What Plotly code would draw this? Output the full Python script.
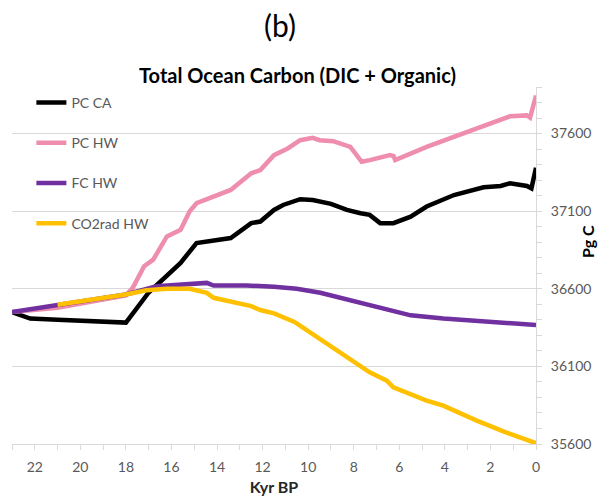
import plotly.graph_objects as go

# kyr BP and Pg C
pc_ca_x = [23, 22.2, 21, 20, 19, 18.0, 17.0, 15.6, 14.9, 13.4, 12.5, 12.1, 11.5, 11.1, 10.35, 9.8, 9.0, 8.3,
           7.7, 7.3, 6.84, 6.26, 5.5, 4.8, 3.6, 2.3, 1.55, 1.14, 0.4, 0.2, 0]
pc_ca_y = [36450, 36408, 36400, 36395, 36390, 36382, 36576, 36767, 36895, 36927, 37023, 37033, 37108, 37140,
           37177, 37172, 37147, 37108, 37087, 37076, 37023, 37023, 37065, 37130, 37204, 37254, 37262, 37280,
           37262, 37247, 37380]

pc_hw_x = [23, 21, 19, 18.0, 17.7, 17.2, 16.8, 16.2, 15.6, 15.2, 14.9, 13.4, 12.5, 12.1, 11.5, 10.9, 10.35,
           9.8, 9.5, 8.9, 8.15, 7.65, 7.3, 6.4, 6.25, 6.18, 4.8, 3.6, 2.3, 1.14, 0.4, 0.26, 0]
pc_hw_y = [36450, 36478, 36530, 36557, 36606, 36745, 36788, 36937, 36980, 37100, 37151, 37237, 37344, 37365,
           37461, 37504, 37557, 37572, 37557, 37551, 37514, 37418, 37429, 37461, 37455, 37429, 37514, 37578,
           37653, 37711, 37717, 37703, 37845]

fc_hw_x = [23, 21.0, 18.0, 16.65, 15.5, 14.45, 14.15, 12.7, 11.5, 10.5, 9.47, 8.3, 7.3, 6.4, 5.5, 4.07, 2.6,
           1.14, 0]
fc_hw_y = [36450, 36497, 36563, 36617, 36627, 36638, 36621, 36621, 36613, 36600, 36574, 36531, 36495, 36467,
           36429, 36408, 36392, 36375, 36367]

co2_x = [21.0, 18.0, 17.1, 16.2, 15.2, 15.0, 14.45, 14.15, 13.1, 12.5, 12.1, 11.5, 10.6, 9.8, 8.75, 8.0, 7.3,
         6.55, 6.26, 4.8, 4.07, 2.6, 1.43, 0]
co2_y = [36497, 36563, 36591, 36600, 36600, 36595, 36574, 36542, 36510, 36488, 36463, 36442, 36386, 36307,
         36206, 36136, 36062, 36008, 35965, 35880, 35847, 35751, 35681, 35605]

series = [
    ("PC CA", pc_ca_x, pc_ca_y, "#000000"),
    ("PC HW", pc_hw_x, pc_hw_y, "#EE8DAE"),
    ("FC HW", fc_hw_x, fc_hw_y, "#7030A0"),
    ("CO2rad HW", co2_x, co2_y, "#FFC000"),
]

fig = go.Figure()
for i, (name, xs, ys, col) in enumerate(series):
    fig.add_trace(go.Scatter(x=xs, y=ys, name=name, mode="lines", legendgroup=str(i),
                             line=dict(color=col, width=4.5)))

grey = "#595959"
fig.update_xaxes(range=[23, 0], tick0=0, dtick=2, ticks="outside", ticklen=5, tickcolor="#D9D9D9",
                 minor=dict(dtick=1, ticks="outside", ticklen=5, tickcolor="#D9D9D9"),
                 showline=True, linecolor="#D9D9D9", linewidth=1, showgrid=False, zeroline=False,
                 tickfont=dict(size=14, color=grey), ticklabelstandoff=5,
                 title=dict(text="<b>Kyr BP</b>", font=dict(size=16, color="#262626"), standoff=8))
fig.update_yaxes(range=[35600, 37900], side="right", tick0=35600, dtick=500, tickformat="d",
                 ticks="outside", ticklen=5,
                 tickcolor="#D9D9D9", minor=dict(dtick=100, ticks="outside", ticklen=5, tickcolor="#D9D9D9"),
                 showline=True, linecolor="#D9D9D9", linewidth=1, showgrid=True, gridcolor="#D9D9D9",
                 zeroline=False, tickfont=dict(size=14, color=grey), ticklabelstandoff=6)

fig.add_annotation(text="(b)", xref="paper", yref="paper", x=0.511, y=1.175, showarrow=False,
                   font=dict(size=30, color="#000000"), yanchor="middle")
fig.add_annotation(text="<b>Total Ocean Carbon (DIC + Organic)</b>", xref="paper", yref="paper",
                   x=0.545, y=1.035, showarrow=False, font=dict(size=20, color="#000000"),
                   yanchor="middle")
fig.add_annotation(text="<b>Pg C</b>", xref="paper", yref="paper", x=1.12, y=0.567, showarrow=False,
                   textangle=-90, font=dict(size=16, color="#000000"))

# page body adds an 8px offset, so the figure is a bit smaller than the window
fig.update_layout(width=602, height=496, margin=dict(l=4, r=74, t=79, b=60),
                  plot_bgcolor="white", paper_bgcolor="white",
                  font=dict(family="Lato, Open Sans, sans-serif"),
                  showlegend=True,
                  legend=dict(x=0.037, y=1.0, xanchor="left", yanchor="top", bgcolor="rgba(0,0,0,0)",
                              font=dict(size=14, color=grey), tracegroupgap=19, itemwidth=30))
fig.write_html("out.html")
